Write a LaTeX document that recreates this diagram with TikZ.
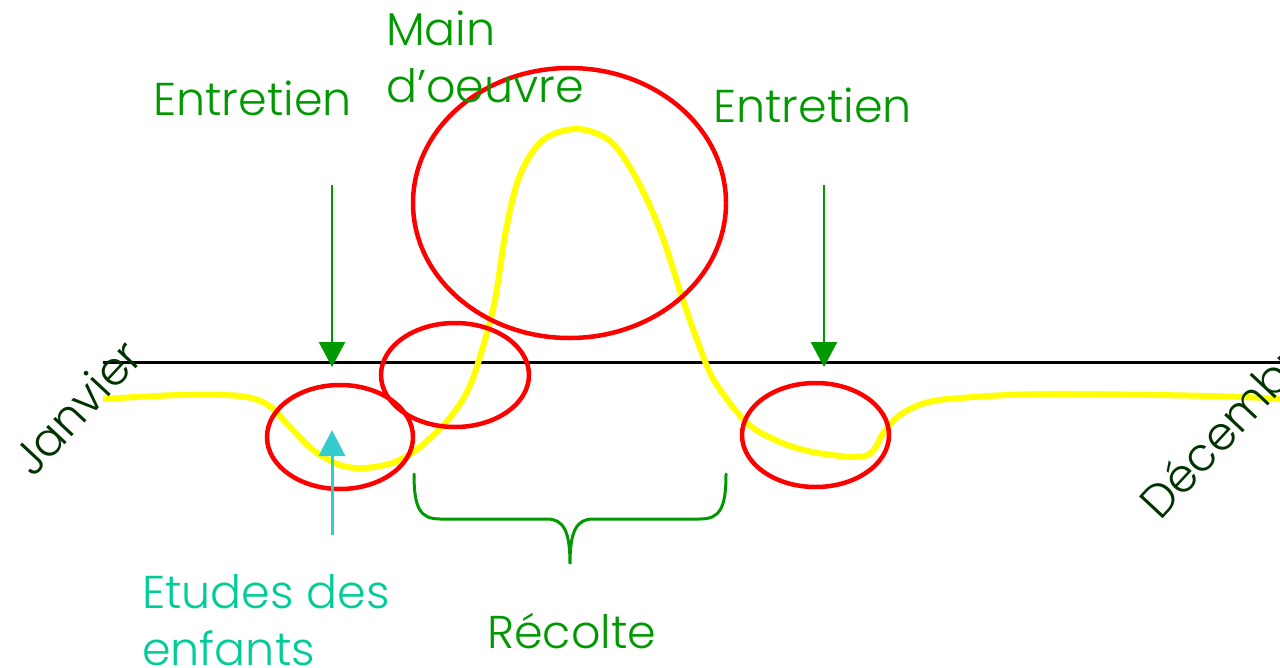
\documentclass[tikz,border=0pt]{standalone}
\usepackage{fontspec}
\setmainfont{Poppins}[UprightFont=* Light]
\usetikzlibrary{arrows.meta,shapes.geometric}

\definecolor{labelgreen}{HTML}{009900}
\definecolor{monthgreen}{HTML}{003300}
\definecolor{childteal}{HTML}{00CC99}
\definecolor{childarrow}{HTML}{33CCCC}
\definecolor{workred}{HTML}{FF0000}
\definecolor{workyellow}{HTML}{FFFF00}

\tikzset{
  label text/.style={inner sep=0pt, anchor=base west, align=left,
    font=\fontsize{46}{57}\selectfont},
  month text/.style={inner sep=0pt, anchor=base west, rotate=47,
    text=monthgreen, font=\fontsize{46}{57}\selectfont},
  load ring/.style={draw=workred, line width=4.5pt, ellipse, inner sep=0pt},
  timeline/.style={line width=3pt, black},
  workload/.style={line width=6pt, workyellow},
  down arrow/.style={draw=labelgreen, line width=2.5pt,
    -{Triangle[width=26pt,length=25pt]}},
  up arrow/.style={draw=childarrow, line width=3pt,
    -{Triangle[width=26pt,length=26pt]}},
  harvest brace/.style={draw=labelgreen, line width=3pt, line cap=round},
}

\begin{document}
\begin{tikzpicture}[x=1pt,y=-1pt]
\useasboundingbox (0,0) rectangle (1280,667);

% time axis
\coordinate (jan) at (103,362);
\coordinate (dec) at (1280,362);
\draw[timeline] (jan) -- (dec);

% workload over the year
\draw[workload] plot[smooth, tension=0.55] coordinates {
  (103,399) (180,395) (240,396) (268,405) (290,427) (313,450) (340,465)
  (365,468) (395,462) (420,447) (448,420) (468,390) (482,350) (495,300)
  (506,230) (520,175) (543,140) (577,129) (610,141) (635,176) (660,230)
  (683,300) (700,348) (715,382) (747,423) (780,442) (813,452) (855,457)
  (872,452) (884,432) (900,415) (925,403) (960,398) (1047,394)
  (1213,396) (1280,399)};

% periods of tension
\node[load ring, minimum width=146pt, minimum height=104pt] (ringA) at (340,437) {};
\node[load ring, minimum width=148pt, minimum height=104pt] (ringB) at (455,375) {};
\node[load ring, minimum width=313pt, minimum height=270pt] (ringC) at (569.5,203) {};
\node[load ring, minimum width=147pt, minimum height=104pt] (ringD) at (815.5,435) {};

% labels (base anchor sits on the last line)
\node[label text, text=labelgreen] (entL) at (153,115) {Entretien};
\node[label text, text=labelgreen] (entR) at (713,122) {Entretien};
\node[label text, text=labelgreen] (mo) at (386,102) {Main\\d’oeuvre};
\node[label text, text=childteal] (etu) at (142,665) {Etudes des\\enfants};
\node[label text, text=labelgreen] (rec) at (487,648) {Récolte};
\node[month text] (mjan) at (33,479) {Janvier};
\node[month text] (mdec) at (1160,522) {Décembre};

% arrows
\coordinate (aL0) at (332,185);
\coordinate (aL1) at (332,367);
\coordinate (aR0) at (824,185);
\coordinate (aR1) at (824,367);
\coordinate (aC0) at (332,535);
\coordinate (aC1) at (332,430);
\draw[down arrow] (aL0) -- (aL1);
\draw[down arrow] (aR0) -- (aR1);
\draw[up arrow] (aC0) -- (aC1);

% harvest brace
\coordinate (bL) at (414,474);
\coordinate (bR) at (726,474);
\coordinate (bT) at (570,564);
\draw[harvest brace] (bL) .. controls (414,508) and (420,519) .. (440,519)
  -- (547,519) .. controls (564,519) and (570,532) .. (bT)
  .. controls (570,532) and (576,519) .. (593,519)
  -- (700,519) .. controls (720,519) and (726,508) .. (bR);
\end{tikzpicture}
\end{document}
